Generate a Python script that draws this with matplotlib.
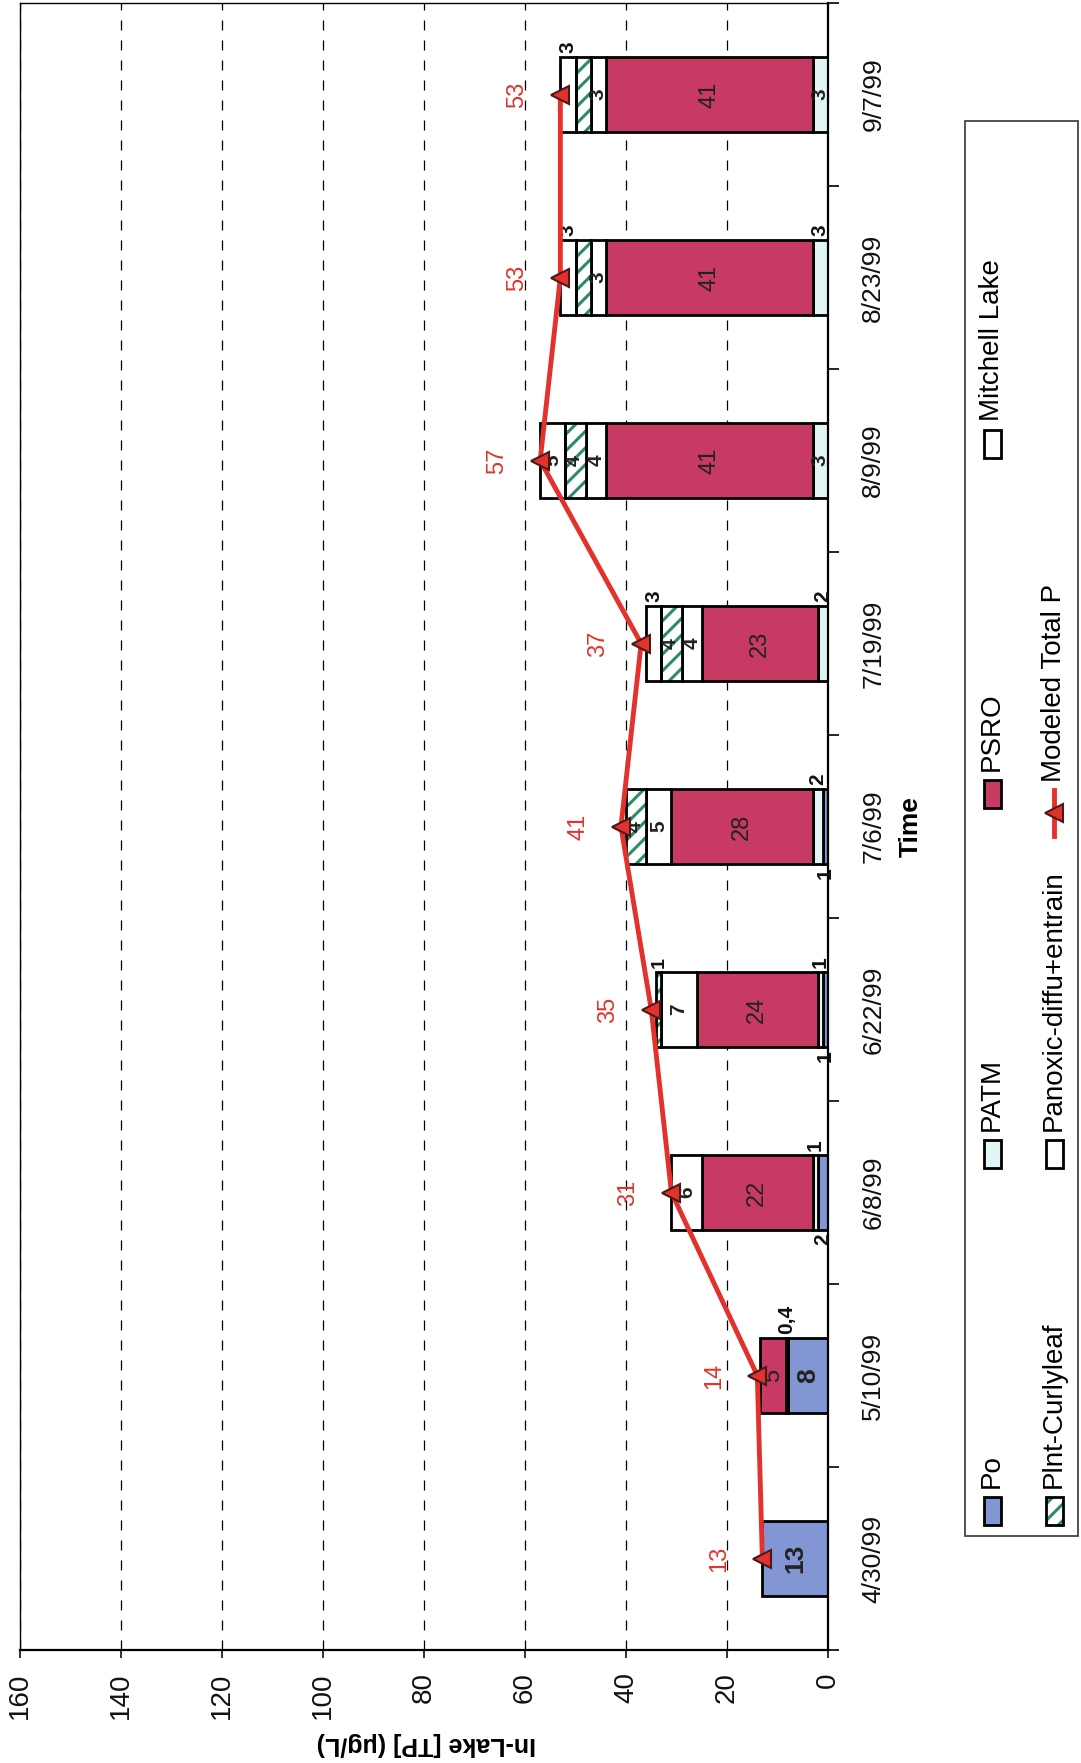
import matplotlib
matplotlib.use('Agg')
import matplotlib.pyplot as plt
import numpy as np
from matplotlib.patches import Rectangle
from matplotlib.lines import Line2D

plt.rcParams['font.family'] = ['Liberation Sans', 'DejaVu Sans']
plt.rcParams['hatch.linewidth'] = 2.2

# ---------------- data ----------------
dates = ['4/30/99', '5/10/99', '6/8/99', '6/22/99', '7/6/99',
         '7/19/99', '8/9/99', '8/23/99', '9/7/99']
po       = [13, 8,   2, 1, 1, 0, 0, 0, 0]
patm     = [0,  0.4, 1, 1, 2, 2, 3, 3, 3]
psro     = [0,  5,  22, 24, 28, 23, 41, 41, 41]
panoxic  = [0,  0,   6, 7, 5, 4, 4, 3, 3]
plnt     = [0,  0,   0, 1, 4, 4, 4, 3, 3]
mitchell = [0,  0,   0, 0, 0, 3, 5, 3, 3]
modeled  = [13, 14, 31, 35, 41, 37, 57, 53, 53]
value_ticks = [0, 20, 40, 60, 80, 100, 120, 140, 160]

# ---------------- styles ----------------
C_PO = '#8396d4'
C_PATM = '#e2f5f5'
C_PSRO = '#c63a63'
C_WHITE = 'white'
C_HATCH = '#2a8c6c'
C_RED = '#e3322b'

# label placement: c = centre, a = beside bar (later side), b = beside bar (earlier side), n = hidden
series = [
    ('Po', po, C_PO, None, ['c', 'c', 'b', 'b', 'b', 'c', 'c', 'c', 'c'], 'bold', 15),
    ('PATM', patm, C_PATM, None, ['c', 'a', 'a', 'a', 'a', 'a', 'c', 'a', 'c'], 'bold', 15),
    ('PSRO', psro, C_PSRO, None, ['c'] * 9, 'normal', 17),
    ('Panoxic-diffu+entrain', panoxic, C_WHITE, None, ['c'] * 9, 'bold', 15),
    ('Plnt-Curlyleaf', plnt, C_WHITE, '//', ['c', 'c', 'c', 'a', 'c', 'c', 'c', 'n', 'n'], 'bold', 14),
    ('Mitchell Lake', mitchell, C_WHITE, None, ['c', 'c', 'c', 'c', 'c', 'a', 'c', 'a', 'a'], 'bold', 15),
]

W, H = 1081, 1763
fig = plt.figure(figsize=(W / 100, H / 100), dpi=100)
fig.patch.set_facecolor('white')


def fpt(x, y):
    return (x / W, 1 - y / H)


ax = fig.add_axes([20 / W, 1 - 1650 / H, (828 - 20) / W, (1650 - 3) / H])
pos = np.arange(len(dates))
bh = 0.41

left = np.zeros(len(dates))
for name, vals, col, hatch, places, weight, fs0 in series:
    vals = np.array(vals, dtype=float)
    for i in range(len(dates)):
        v = vals[i]
        if v <= 0:
            continue
        if hatch:
            ax.barh(pos[i], v, left=left[i], height=bh, color='white',
                    edgecolor=C_HATCH, hatch=hatch, linewidth=0, zorder=2)
            ax.barh(pos[i], v, left=left[i], height=bh, fill=False,
                    edgecolor='black', linewidth=2, zorder=2.1)
        else:
            ax.barh(pos[i], v, left=left[i], height=bh, color=col,
                    edgecolor='black', linewidth=2, zorder=2)
        txt = ('%g' % v).replace('.', ',')
        cx = left[i] + v / 2
        pl = places[i]
        fs = 19 if (name == 'Po' and v >= 8) else fs0
        if pl == 'c':
            ax.text(cx, pos[i], txt, rotation=90, ha='center', va='center',
                    fontsize=fs, fontweight=weight, color='#222222', zorder=3)
        elif pl == 'a':
            ax.text(cx, pos[i] + bh / 2 + 0.02, txt, rotation=90, ha='center',
                    va='bottom', fontsize=fs, fontweight=weight, color='#111111', zorder=3)
        elif pl == 'b':
            ax.text(cx, pos[i] - bh / 2 - 0.02, txt, rotation=90, ha='center',
                    va='top', fontsize=fs, fontweight=weight, color='#111111', zorder=3)
    left += vals

# modeled total P line
ax.plot(modeled, pos, color=C_RED, lw=3.5, zorder=4)
ax.plot(modeled, pos, linestyle='none', marker='<', ms=13, mfc=C_RED,
        mec='#4a1a1a', mew=1.5, zorder=5)
for i, t in enumerate(modeled):
    ax.text(t + 8.5, pos[i], str(t), rotation=90, ha='center', va='center',
            fontsize=17, color=C_RED, zorder=5)

ax.set_xlim(160, 0)
ax.set_ylim(-0.5, len(dates) - 0.5)

ax.set_xticks(value_ticks)
ax.set_xticklabels([str(v) for v in value_ticks], rotation=90)
ax.tick_params(axis='x', direction='out', length=6, width=1.2, pad=10,
               labelsize=20, colors='#111111')

ax.yaxis.tick_right()
ax.set_yticks(pos)
ax.set_yticklabels(dates, rotation=90, va='center')
ax.tick_params(axis='y', which='major', length=0, pad=24, labelsize=19,
               colors='#111111')
ax.set_yticks(np.arange(-0.5, len(dates), 1), minor=True)
ax.tick_params(axis='y', which='minor', length=8, width=1.2, direction='out',
               right=True, left=False)

ax.xaxis.grid(True, linestyle=(0, (8, 8)), color='black', lw=0.9)
ax.set_axisbelow(True)
for s in ['left', 'top']:
    ax.spines[s].set_linewidth(1.0)
for s in ['right', 'bottom']:
    ax.spines[s].set_linewidth(1.6)

# axis titles
fig.text(*fpt(911, 827), 'Time', rotation=90, ha='center', va='center',
         fontsize=19, fontweight='bold')
fig.text(*fpt(426, 1744), 'In-Lake [TP] (μg/L)', rotation=180, ha='center',
         va='center', fontsize=18, fontweight='bold')

# ---------------- legend (drawn rotated) ----------------
fig.add_artist(Rectangle(fpt(965, 1536), 113 / W, 1415 / H,
                         transform=fig.transFigure, fill=False,
                         edgecolor='#444444', lw=1.3))
row_x = [992, 1054]
col_y = [1511, 1154, 794, 444]
entries = [
    (0, 0, 'Po', C_PO, None),
    (0, 1, 'PATM', C_PATM, None),
    (0, 2, 'PSRO', C_PSRO, None),
    (0, 3, 'Mitchell Lake', C_WHITE, None),
    (1, 0, 'Plnt-Curlyleaf', C_WHITE, '//'),
    (1, 1, 'Panoxic-diffu+entrain', C_WHITE, None),
]
for r, c, lab, colr, hatch in entries:
    cx, cy = row_x[r], col_y[c]
    ll = fpt(cx - 8.5, cy + 14)
    if hatch:
        fig.add_artist(Rectangle(ll, 17 / W, 28 / H, transform=fig.transFigure,
                                 facecolor='white', edgecolor=C_HATCH, hatch=hatch, lw=0))
        fig.add_artist(Rectangle(ll, 17 / W, 28 / H, transform=fig.transFigure,
                                 fill=False, edgecolor='black', lw=2))
    else:
        fig.add_artist(Rectangle(ll, 17 / W, 28 / H, transform=fig.transFigure,
                                 facecolor=colr, edgecolor='black', lw=2))
    fig.text(*fpt(cx, cy - 23), lab, rotation=90, ha='center', va='bottom',
             fontsize=20)

# modeled legend symbol
mx = row_x[1]
y1, y2 = fpt(mx, 790), fpt(mx, 836)
fig.add_artist(Line2D([y1[0], y2[0]], [y1[1], y2[1]], transform=fig.transFigure,
                      color=C_RED, lw=3.5))
mc = fpt(mx, 813)
fig.add_artist(Line2D([mc[0]], [mc[1]], transform=fig.transFigure, marker='<',
                      ms=13, mfc=C_RED, mec='#4a1a1a', mew=1.5, linestyle='none'))
fig.text(*fpt(mx, 782), 'Modeled Total P', rotation=90, ha='center', va='bottom',
         fontsize=20)

fig.savefig('out.png', dpi=100, facecolor='white')
